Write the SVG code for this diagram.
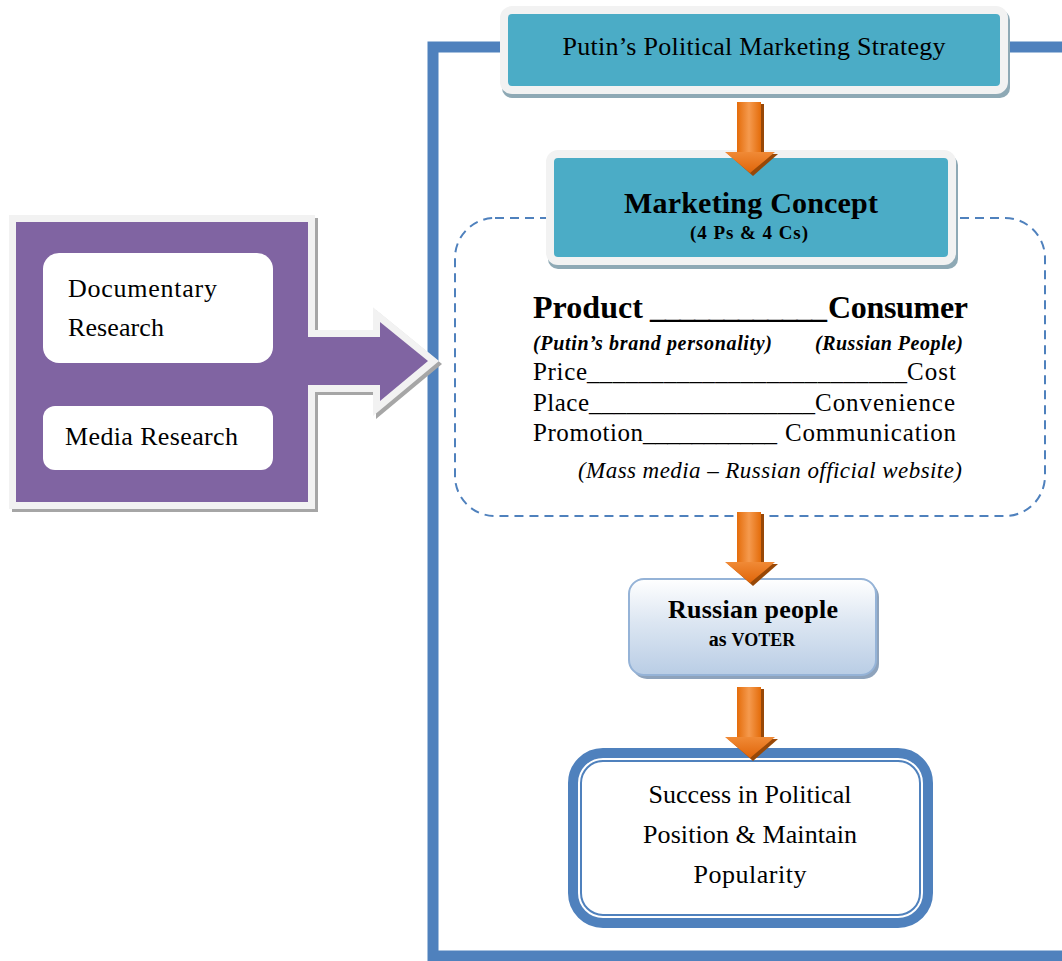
<svg xmlns="http://www.w3.org/2000/svg" width="1062" height="961" viewBox="0 0 1062 961">
  <defs>
    <linearGradient id="orangeShaft" x1="0" y1="0" x2="1" y2="0">
      <stop offset="0" stop-color="#E46C0A"/>
      <stop offset="0.5" stop-color="#F59A4E"/>
      <stop offset="1" stop-color="#E46C0A"/>
    </linearGradient>
    <linearGradient id="orangeHead" x1="0" y1="0" x2="0" y2="1">
      <stop offset="0" stop-color="#F08A36"/>
      <stop offset="1" stop-color="#E0650A"/>
    </linearGradient>
    <linearGradient id="voterFill" x1="0" y1="0" x2="0" y2="1">
      <stop offset="0" stop-color="#FFFFFF"/>
      <stop offset="0.45" stop-color="#DCE6F2"/>
      <stop offset="1" stop-color="#B9CDE5"/>
    </linearGradient>
    <!-- orange down arrow, tip at (0,0) -->
    <g id="downArrow">
      <rect x="-11" y="-69" width="25" height="50" fill="#984807"/>
      <polygon points="-22,-19 28,-19 3,3" fill="#984807"/>
      <rect x="-13" y="-71" width="24" height="52" fill="url(#orangeShaft)"/>
      <polygon points="-25,-21 25,-21 0,0" fill="url(#orangeHead)"/>
    </g>
    <style>
      .frame { fill: none; stroke: #4F81BD; stroke-width: 11; }
      .teal { fill: #4BACC6; stroke: #F2F2F2; stroke-width: 8; }
      .tealShadow { fill: #8EA9B5; }
      text { font-family: "Liberation Serif", "Times New Roman", serif; fill: #000; }
      .ctr { text-anchor: middle; }
      .b { font-weight: bold; }
      .i { font-style: italic; }
      .dash { fill: none; stroke: #4F81BD; stroke-width: 2; stroke-dasharray: 9 6; }
    </style>
  </defs>

  <!-- outer blue frame -->
  <g id="frame">
    <path class="frame" d="M 1070 47 L 433 47 L 433 956 L 1070 956"/>
  </g>

  <!-- dashed marketing-mix area -->
  <g id="mix-area">
    <rect class="dash" x="455" y="218" width="590" height="298" rx="40" ry="40"/>
  </g>

  <!-- research sources with arrow -->
  <g id="research">
    <path d="M 19 225 L 311 225 L 311 340 L 383 340 L 383 325 L 431 364 L 383 404 L 383 388 L 311 388 L 311 505 L 19 505 Z"
          fill="#A6A6A6" stroke="#A6A6A6" stroke-width="14" stroke-linejoin="miter" stroke-miterlimit="10"/>
    <path d="M 16 222 L 308 222 L 308 337 L 380 337 L 380 322 L 428 361 L 380 401 L 380 385 L 308 385 L 308 502 L 16 502 Z"
          fill="#8064A2" stroke="#F2F2F2" stroke-width="14" stroke-linejoin="miter" stroke-miterlimit="10" paint-order="stroke"/>
    <rect x="43" y="253" width="230" height="110" rx="16" fill="#FFFFFF"/>
    <rect x="43" y="406" width="230" height="64" rx="12" fill="#FFFFFF"/>
    <text x="68" y="297" font-size="26" textLength="149">Documentary</text>
    <text x="68" y="336" font-size="26" textLength="96">Research</text>
    <text x="65" y="445" font-size="26" textLength="173">Media Research</text>
  </g>

  <!-- title -->
  <g id="title">
    <rect class="tealShadow" x="502" y="10" width="508" height="88" rx="10"/>
    <rect class="teal" x="504" y="10" width="500" height="80" rx="8"/>
    <text class="ctr" x="754" y="55" font-size="26" textLength="383">Putin’s Political Marketing Strategy</text>
  </g>

  <!-- marketing concept -->
  <g id="marketing-concept">
    <rect class="tealShadow" x="548" y="155" width="410" height="114" rx="10"/>
    <rect class="teal" x="550" y="154" width="402" height="107" rx="8"/>
    <text class="ctr b" x="751" y="213" font-size="30" textLength="254">Marketing Concept</text>
    <text class="ctr b" x="749" y="239" font-size="19" textLength="118">(4 Ps &amp; 4 Cs)</text>
  </g>

  <!-- 4 Ps vs 4 Cs -->
  <g id="ps-cs">
    <text class="b" x="533" y="318" font-size="32" textLength="110">Product</text>
    <text class="b" x="650" y="318" font-size="32" textLength="177">____________</text>
    <text class="b" x="828" y="318" font-size="32" textLength="140">Consumer</text>
    <text class="b i" x="533" y="350" font-size="20" textLength="239">(Putin’s brand personality)</text>
    <text class="b i" x="815" y="350" font-size="20" textLength="148">(Russian People)</text>

    <text x="533" y="380" font-size="25" textLength="54">Price</text>
    <text x="587" y="380" font-size="25" textLength="320">_________________________</text>
    <text x="907" y="380" font-size="25" textLength="49">Cost</text>

    <text x="533" y="411" font-size="25" textLength="56">Place</text>
    <text x="589" y="411" font-size="25" textLength="226">__________________</text>
    <text x="815" y="411" font-size="25" textLength="140">Convenience</text>

    <text x="533" y="441" font-size="25" textLength="110">Promotion</text>
    <text x="643" y="441" font-size="25" textLength="134">___________</text>
    <text x="785" y="441" font-size="25" textLength="171">Communication</text>

    <text class="i" x="578" y="478" font-size="23" textLength="384">(Mass media – Russian official website)</text>
  </g>

  <!-- voter -->
  <g id="voter">
    <rect x="632" y="582" width="247" height="97" rx="15" fill="#8EA3BC"/>
    <rect x="629" y="579" width="247" height="96" rx="15" fill="url(#voterFill)" stroke="#95B3D7" stroke-width="2"/>
    <text class="ctr b" x="753" y="618" font-size="26" textLength="170">Russian people</text>
    <text class="ctr b" x="752" y="646"><tspan font-size="20">as </tspan><tspan font-size="18">VOTER</tspan></text>
  </g>

  <!-- outcome: thick border with a thin inner line -->
  <g id="outcome">
    <rect x="573" y="753" width="355" height="170" rx="30" fill="#FFFFFF" stroke="#4F81BD" stroke-width="10"/>
    <rect x="581" y="761" width="339" height="154" rx="22" fill="none" stroke="#4F81BD" stroke-width="2"/>
    <text class="ctr" x="750" y="803" font-size="26" textLength="203">Success in Political</text>
    <text class="ctr" x="750" y="843" font-size="26" textLength="214">Position &amp; Maintain</text>
    <text class="ctr" x="750" y="883" font-size="26" textLength="113">Popularity</text>
  </g>

  <!-- connectors -->
  <g id="connectors">
    <use href="#downArrow" x="750" y="173"/>
    <use href="#downArrow" x="750" y="583"/>
    <use href="#downArrow" x="750" y="758"/>
  </g>
</svg>
